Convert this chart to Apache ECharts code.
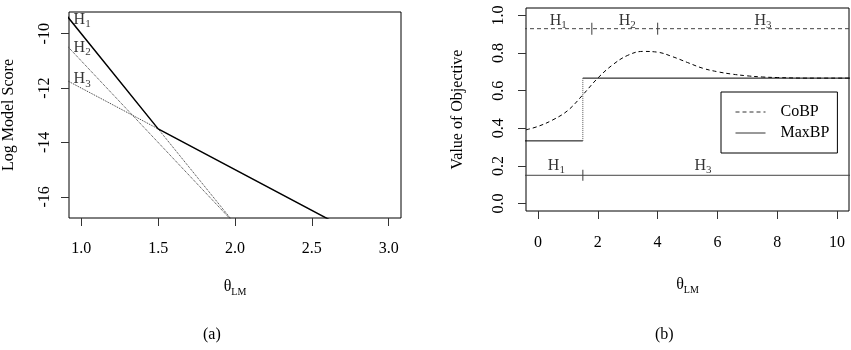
<!DOCTYPE html>
<html>
<head>
<meta charset="utf-8">
<script src="https://cdn.jsdelivr.net/npm/echarts@6/dist/echarts.min.js"></script>
<style>html,body{margin:0;padding:0;background:#fff}#c{width:851px;height:350px}</style>
</head>
<body>
<div id="c"></div>
<script>
// ---- Panel (a) data: Log Model Score vs theta_LM ----
var leftXTicks = [1.0, 1.5, 2.0, 2.5, 3.0];
var leftYTicks = [-16, -14, -12, -10];
var h1Score = [[0.9, -9.3], [1.5, -13.5], [2.7, -17.1]];
var h2Score = [[0.9, -10.4], [2.0, -17.0]];
var h3Score = [[0.9, -11.7], [1.5, -13.5], [2.0, -17.0]];
var leftLabels = [[0.95, -9.48, '1'], [0.95, -10.51, '2'], [0.95, -11.67, '3']];

// ---- Panel (b) data: Value of Objective vs theta_LM ----
var rightXTicks = [0, 2, 4, 6, 8, 10];
var rightYTicks = [0.0, 0.2, 0.4, 0.6, 0.8, 1.0];
var cobpCurve = [[-0.4, 0.392], [0, 0.41], [0.5, 0.445], [1.0, 0.495], [1.5, 0.578], [2.0, 0.667],
  [2.5, 0.738], [3.0, 0.788], [3.5, 0.809], [4.0, 0.805], [4.5, 0.781], [5.0, 0.75], [5.5, 0.72],
  [6.0, 0.701], [6.5, 0.688], [7.0, 0.679], [7.5, 0.673], [8.0, 0.67], [9.0, 0.667], [10.4, 0.667]];
var maxbpStep = [[-0.5, 0.333], [1.5, 0.333], ['-', '-'], [1.5, 0.667], [10.5, 0.667]];
var maxbpJump = [[1.5, 0.333], [1.5, 0.667]];
var cobpRegionLine = [[-0.5, 0.93], [10.5, 0.93]];
var cobpRegionTicks = [[1.8, 0.93], [4.0, 0.93]];
var cobpRegionLabels = [[0.39, 0.972, '1'], [2.70, 0.972, '2'], [7.24, 0.972, '3']];
var maxbpRegionLine = [[-0.5, 0.15], [10.5, 0.15]];
var maxbpRegionTicks = [[1.5, 0.15]];
var maxbpRegionLabels = [[0.33, 0.20, '1'], [5.23, 0.20, '3']];

var FONT = 'Liberation Serif';
var thetaName = '{t|θ}{s|LM}';
var nameRich = {
  t: { fontFamily: FONT, fontSize: 16, lineHeight: 20, color: '#000' },
  s: { fontFamily: FONT, fontSize: 10, lineHeight: 10, verticalAlign: 'bottom', color: '#000' }
};
var hRich = {
  h: { fontFamily: FONT, fontSize: 16, lineHeight: 20, color: '#000' },
  s: { fontFamily: FONT, fontSize: 11, lineHeight: 11, verticalAlign: 'bottom', color: '#000' }
};

function tickStyle(ticks) {
  return { show: true, inside: false, length: 8, customValues: ticks, lineStyle: { color: '#333', width: 1 } };
}

function labelSeries(xi, yi, data) {
  return {
    type: 'scatter', xAxisIndex: xi, yAxisIndex: yi, symbolSize: 0, silent: true,
    data: data.map(function (d) { return { value: [d[0], d[1]], sub: d[2] }; }),
    label: {
      show: true, position: 'right', distance: 0,
      formatter: function (p) { return '{h|H}{s|' + p.data.sub + '}'; },
      rich: hRich
    }
  };
}

var chart = echarts.init(document.getElementById('c'), null, { renderer: 'canvas' });

chart.setOption({
  animation: false,
  backgroundColor: '#fff',
  textStyle: { fontFamily: FONT },
  grid: [
    { left: 69, top: 12, width: 332, height: 206, show: true, borderColor: '#000', borderWidth: 1, backgroundColor: 'transparent' },
    { left: 526, top: 8, width: 323, height: 203, show: true, borderColor: '#000', borderWidth: 1, backgroundColor: 'transparent' }
  ],
  xAxis: [
    { type: 'value', gridIndex: 0, min: 0.92, max: 3.08,
      axisLine: { show: false, onZero: false }, splitLine: { show: false },
      axisTick: tickStyle(leftXTicks),
      axisLabel: { customValues: leftXTicks, margin: 23, fontFamily: FONT, fontSize: 16, color: '#000',
        formatter: function (v) { return v.toFixed(1); } },
      name: thetaName, nameLocation: 'middle', nameGap: 59, nameTextStyle: { rich: nameRich } },
    { type: 'value', gridIndex: 1, min: -0.4, max: 10.4,
      axisLine: { show: false, onZero: false }, splitLine: { show: false },
      axisTick: tickStyle(rightXTicks),
      axisLabel: { customValues: rightXTicks, margin: 24, fontFamily: FONT, fontSize: 16, color: '#000',
        formatter: function (v) { return String(v); } },
      name: thetaName, nameLocation: 'middle', nameGap: 64, nameTextStyle: { rich: nameRich } }
  ],
  yAxis: [
    { type: 'value', gridIndex: 0, min: -16.78, max: -9.2,
      axisLine: { show: false, onZero: false }, splitLine: { show: false },
      axisTick: tickStyle(leftYTicks),
      axisLabel: { customValues: leftYTicks, rotate: 90, margin: 16, fontFamily: FONT, fontSize: 16, color: '#000',
        formatter: function (v) { return String(v); } },
      name: 'Log Model Score', nameLocation: 'middle', nameGap: 52, nameRotate: 90,
      nameTextStyle: { fontFamily: FONT, fontSize: 16, color: '#000' } },
    { type: 'value', gridIndex: 1, min: -0.04, max: 1.04,
      axisLine: { show: false, onZero: false }, splitLine: { show: false },
      axisTick: tickStyle(rightYTicks),
      axisLabel: { customValues: rightYTicks, rotate: 90, margin: 19, fontFamily: FONT, fontSize: 16, color: '#000',
        formatter: function (v) { return v.toFixed(1); } },
      name: 'Value of Objective', nameLocation: 'middle', nameGap: 60, nameRotate: 90,
      nameTextStyle: { fontFamily: FONT, fontSize: 16, color: '#000' } }
  ],
  legend: {
    data: ['CoBP', 'MaxBP'], orient: 'vertical', left: 721, top: 92,
    itemWidth: 30, itemHeight: 14, itemGap: 5,
    padding: [12, 8, 12, 14], borderColor: '#000', borderWidth: 1, backgroundColor: '#fff',
    itemStyle: { color: 'rgba(0,0,0,0)', borderWidth: 0, opacity: 0 },
    lineStyle: { width: 1, color: '#333' },
    textStyle: { fontFamily: FONT, fontSize: 16, color: '#000', padding: [0, 0, 0, 10] },
    selectedMode: false
  },
  series: [
    { type: 'line', xAxisIndex: 0, yAxisIndex: 0, data: h2Score, symbol: 'none', clip: true,
      lineStyle: { color: '#333', width: 1, type: 'dotted' } },
    { type: 'line', xAxisIndex: 0, yAxisIndex: 0, data: h3Score, symbol: 'none', clip: true,
      lineStyle: { color: '#333', width: 1, type: 'dotted' } },
    { type: 'line', xAxisIndex: 0, yAxisIndex: 0, data: h1Score, symbol: 'none', clip: true,
      lineStyle: { color: '#000', width: 1.5 } },
    labelSeries(0, 0, leftLabels),

    { type: 'line', xAxisIndex: 1, yAxisIndex: 1, data: cobpRegionLine, symbol: 'none', clip: true,
      lineStyle: { color: '#444', width: 1, type: [4, 3] } },
    { type: 'scatter', xAxisIndex: 1, yAxisIndex: 1, data: cobpRegionTicks, symbol: 'rect', symbolSize: [1.2, 12],
      itemStyle: { color: '#333' }, silent: true },
    labelSeries(1, 1, cobpRegionLabels),
    { type: 'line', xAxisIndex: 1, yAxisIndex: 1, data: maxbpRegionLine, symbol: 'none', clip: true,
      lineStyle: { color: '#444', width: 1 } },
    { type: 'scatter', xAxisIndex: 1, yAxisIndex: 1, data: maxbpRegionTicks, symbol: 'rect', symbolSize: [1.2, 11],
      itemStyle: { color: '#333' }, silent: true },
    labelSeries(1, 1, maxbpRegionLabels),

    { name: 'CoBP', type: 'line', xAxisIndex: 1, yAxisIndex: 1, data: cobpCurve, symbol: 'none', smooth: 0.4, clip: true,
      lineStyle: { color: '#000', width: 1, type: [4, 3] }, itemStyle: { color: '#000' } },
    { name: 'MaxBP', type: 'line', xAxisIndex: 1, yAxisIndex: 1, data: maxbpStep, symbol: 'none', clip: true,
      connectNulls: false, lineStyle: { color: '#000', width: 1 }, itemStyle: { color: '#000' } },
    { type: 'line', xAxisIndex: 1, yAxisIndex: 1, data: maxbpJump, symbol: 'none', clip: true,
      lineStyle: { color: '#555', width: 1, type: 'dotted' } }
  ],
  graphic: [
    { type: 'text', left: 203, top: 327, style: { text: '(a)', fontFamily: FONT, fontSize: 16, fill: '#000' } },
    { type: 'text', left: 655, top: 327, style: { text: '(b)', fontFamily: FONT, fontSize: 16, fill: '#000' } }
  ]
});
</script>
</body>
</html>
